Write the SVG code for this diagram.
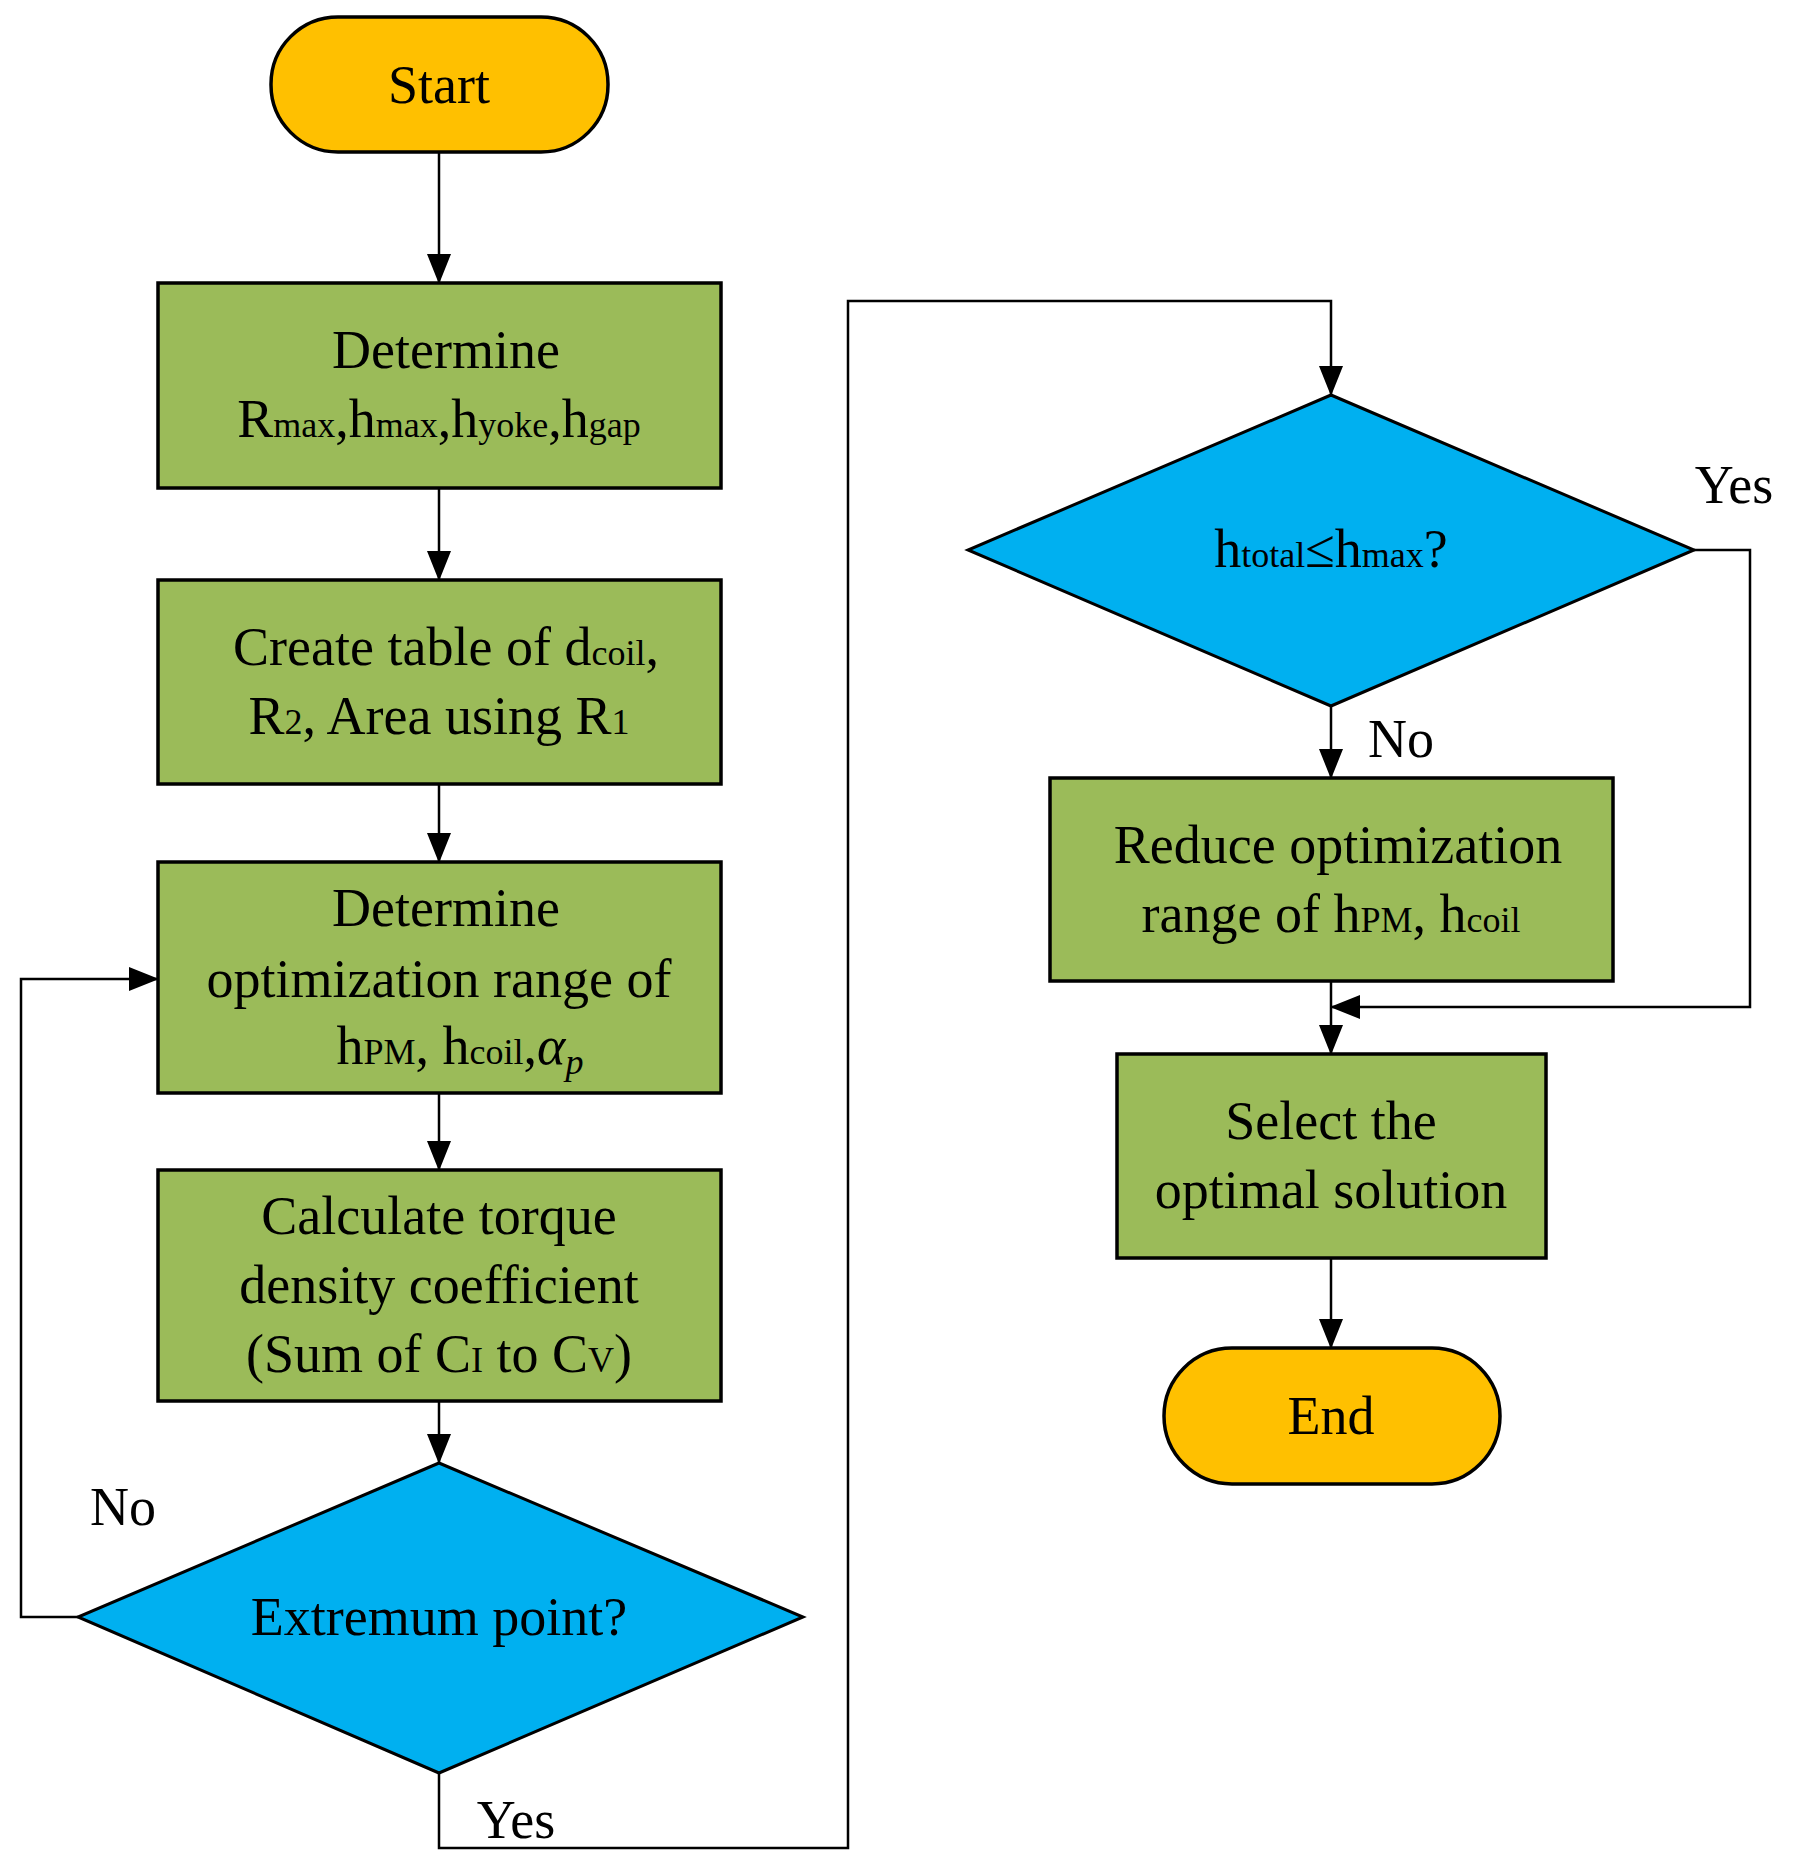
<svg xmlns="http://www.w3.org/2000/svg" width="1800" height="1860" viewBox="0 0 1800 1860">
<style>
text{font-family:"Liberation Serif","Times New Roman",serif;font-size:54px;fill:#000;text-anchor:middle}
.s{font-size:36px}
.box{fill:#9BBB59;stroke:#000;stroke-width:3.5}
.term{fill:#FFC000;stroke:#000;stroke-width:3.5}
.dia{fill:#00B0F0;stroke:#000;stroke-width:3}
.c{fill:none;stroke:#000;stroke-width:2.5}
</style>
<defs><marker id="a" markerWidth="12" markerHeight="12" refX="11" refY="6" orient="auto" markerUnits="userSpaceOnUse"><path d="M0,0 L12,6 L0,12 Z" fill="#000"/></marker>
<marker id="b" markerWidth="30" markerHeight="24" refX="29" refY="12" orient="auto" markerUnits="userSpaceOnUse"><path d="M0,0 L30,12 L0,24 Z" fill="#000"/></marker></defs>
<rect width="1800" height="1860" fill="#fff"/>
<g id="connectors">
<path class="c" d="M439,152 V283" marker-end="url(#b)"/>
<path class="c" d="M439,488 V580" marker-end="url(#b)"/>
<path class="c" d="M439,784 V862" marker-end="url(#b)"/>
<path class="c" d="M439,1093 V1170" marker-end="url(#b)"/>
<path class="c" d="M439,1401 V1463" marker-end="url(#b)"/>
<path class="c" d="M78,1617 H21 V979 H158" marker-end="url(#b)"/>
<path class="c" d="M439,1773 V1848 H848 V301 H1331 V395" marker-end="url(#b)"/>
<path class="c" d="M1331,706 V778" marker-end="url(#b)"/>
<path class="c" d="M1331,981 V1054" marker-end="url(#b)"/>
<path class="c" d="M1694,550 H1750 V1007 H1331" marker-end="url(#b)"/>
<path class="c" d="M1331,1258 V1348" marker-end="url(#b)"/>
<text x="123" y="1525">No</text>
<text x="516" y="1838">Yes</text>
<text x="1401" y="757">No</text>
<text x="1734" y="503">Yes</text>
</g>
<g id="start"><rect class="term" x="271" y="17" width="337" height="135" rx="67"/><text x="439" y="103">Start</text></g>
<g id="box1"><rect class="box" x="158" y="283" width="563" height="205"/><text x="446" y="368">Determine</text><text x="439" y="437">R<tspan class="s">max</tspan>,h<tspan class="s">max</tspan>,h<tspan class="s">yoke</tspan>,h<tspan class="s">gap</tspan></text></g>
<g id="box2"><rect class="box" x="158" y="580" width="563" height="204"/><text x="446" y="665">Create table of d<tspan class="s">coil</tspan>,</text><text x="439" y="734">R<tspan class="s">2</tspan>, Area using R<tspan class="s">1</tspan></text></g>
<g id="box3"><rect class="box" x="158" y="862" width="563" height="231"/><text x="446" y="926">Determine</text><text x="439" y="997">optimization range of</text><text x="460" y="1064">h<tspan class="s">PM</tspan>,   h<tspan class="s">coil</tspan>,<tspan font-style="italic">α</tspan><tspan class="s" font-style="italic" dy="10">p</tspan></text></g>
<g id="box4"><rect class="box" x="158" y="1170" width="563" height="231"/><text x="439" y="1234">Calculate torque</text><text x="439" y="1303">density coefficient</text><text x="439" y="1372">(Sum of C<tspan class="s">I</tspan> to C<tspan class="s">V</tspan>)</text></g>
<g id="dec1"><polygon class="dia" points="439,1463 803,1617 439,1773 78,1617"/><text x="439" y="1635">Extremum point?</text></g>
<g id="dec2"><polygon class="dia" points="1331,395 1694,550 1331,706 968,550"/><text x="1331" y="567">h<tspan class="s">total</tspan>≤h<tspan class="s">max</tspan>?</text></g>
<g id="box5"><rect class="box" x="1050" y="778" width="563" height="203"/><text x="1338" y="863">Reduce optimization</text><text x="1331" y="932">range of h<tspan class="s">PM</tspan>,   h<tspan class="s">coil</tspan></text></g>
<g id="box6"><rect class="box" x="1117" y="1054" width="429" height="204"/><text x="1331" y="1139">Select the</text><text x="1331" y="1208">optimal solution</text></g>
<g id="end"><rect class="term" x="1164" y="1348" width="336" height="136" rx="68"/><text x="1331" y="1434">End</text></g>
</svg>
